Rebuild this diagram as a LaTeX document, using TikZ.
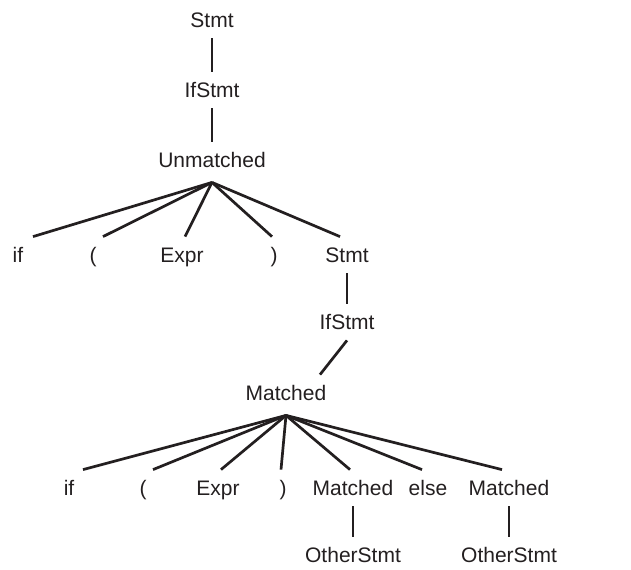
\documentclass[tikz,border=0pt]{standalone}
\usepackage{fontspec}
\setmainfont{Liberation Sans}
\usepackage{xcolor}
\usetikzlibrary{positioning}
\definecolor{treeInk}{HTML}{231F20}

\begin{document}
\begin{tikzpicture}[x=0.5pt, y=-0.5pt,
  sym/.style={text=treeInk, inner xsep=1pt, inner ysep=5.25pt, text height=7.5pt, text depth=0pt, font=\fontsize{10.5}{12}\selectfont},
  branch/.style={draw=treeInk, line width=1.35pt}]
  \useasboundingbox (0,0) rectangle (631,569);
  \node[sym] (stmtTop) at (212,20) {Stmt};
  \node[sym] (ifStmtTop) at (212,90) {IfStmt};
  \node[sym] (unmatched) at (212,160) {Unmatched};
  \node[sym] (ifA) at (18,255) {if};
  \node[sym] (lparA) at (93,255) {(};
  \node[sym] (exprA) at (182,255) {Expr};
  \node[sym] (rparA) at (274,255) {)};
  \node[sym] (stmtMid) at (347,255) {Stmt};
  \node[sym] (ifStmtMid) at (347,322) {IfStmt};
  \node[sym] (matched) at (286,393) {Matched};
  \node[sym] (ifB) at (69,488) {if};
  \node[sym] (lparB) at (143,488) {(};
  \node[sym] (exprB) at (218,488) {Expr};
  \node[sym] (rparB) at (283,488) {)};
  \node[sym] (matchedL) at (353,488) {Matched};
  \node[sym] (elseB) at (428,488) {else};
  \node[sym] (matchedR) at (509,488) {Matched};
  \node[sym] (otherL) at (353,555) {OtherStmt};
  \node[sym] (otherR) at (509,555) {OtherStmt};

  \draw[branch] (stmtTop) -- (ifStmtTop);
  \draw[branch] (ifStmtTop) -- (unmatched);
  \draw[branch] ([yshift=-2pt]unmatched.south) -- ([xshift=7.5pt]ifA.north);
  \draw[branch] ([yshift=-2pt]unmatched.south) -- ([xshift=5pt]lparA.north);
  \draw[branch] ([yshift=-2pt]unmatched.south) -- ([xshift=1.5pt]exprA.north);
  \draw[branch] ([yshift=-2pt]unmatched.south) -- ([xshift=-1pt]rparA.north);
  \draw[branch] ([yshift=-2pt]unmatched.south) -- ([xshift=-3.5pt]stmtMid.north);
  \draw[branch] (stmtMid) -- (ifStmtMid);
  \draw[branch] (ifStmtMid.south) -- ([xshift=17pt]matched.north);
  \draw[branch] ([yshift=-2pt]matched.south) -- ([xshift=7pt]ifB.north);
  \draw[branch] ([yshift=-2pt]matched.south) -- ([xshift=5pt]lparB.north);
  \draw[branch] ([yshift=-2pt]matched.south) -- ([xshift=1.5pt]exprB.north);
  \draw[branch] ([yshift=-2pt]matched.south) -- ([xshift=-1pt]rparB.north);
  \draw[branch] ([yshift=-2pt]matched.south) -- ([xshift=-1.5pt]matchedL.north);
  \draw[branch] ([yshift=-2pt]matched.south) -- ([xshift=-3pt]elseB.north);
  \draw[branch] ([yshift=-2pt]matched.south) -- ([xshift=-3.5pt]matchedR.north);
  \draw[branch] (matchedL) -- (otherL);
  \draw[branch] (matchedR) -- (otherR);
\end{tikzpicture}
\end{document}
